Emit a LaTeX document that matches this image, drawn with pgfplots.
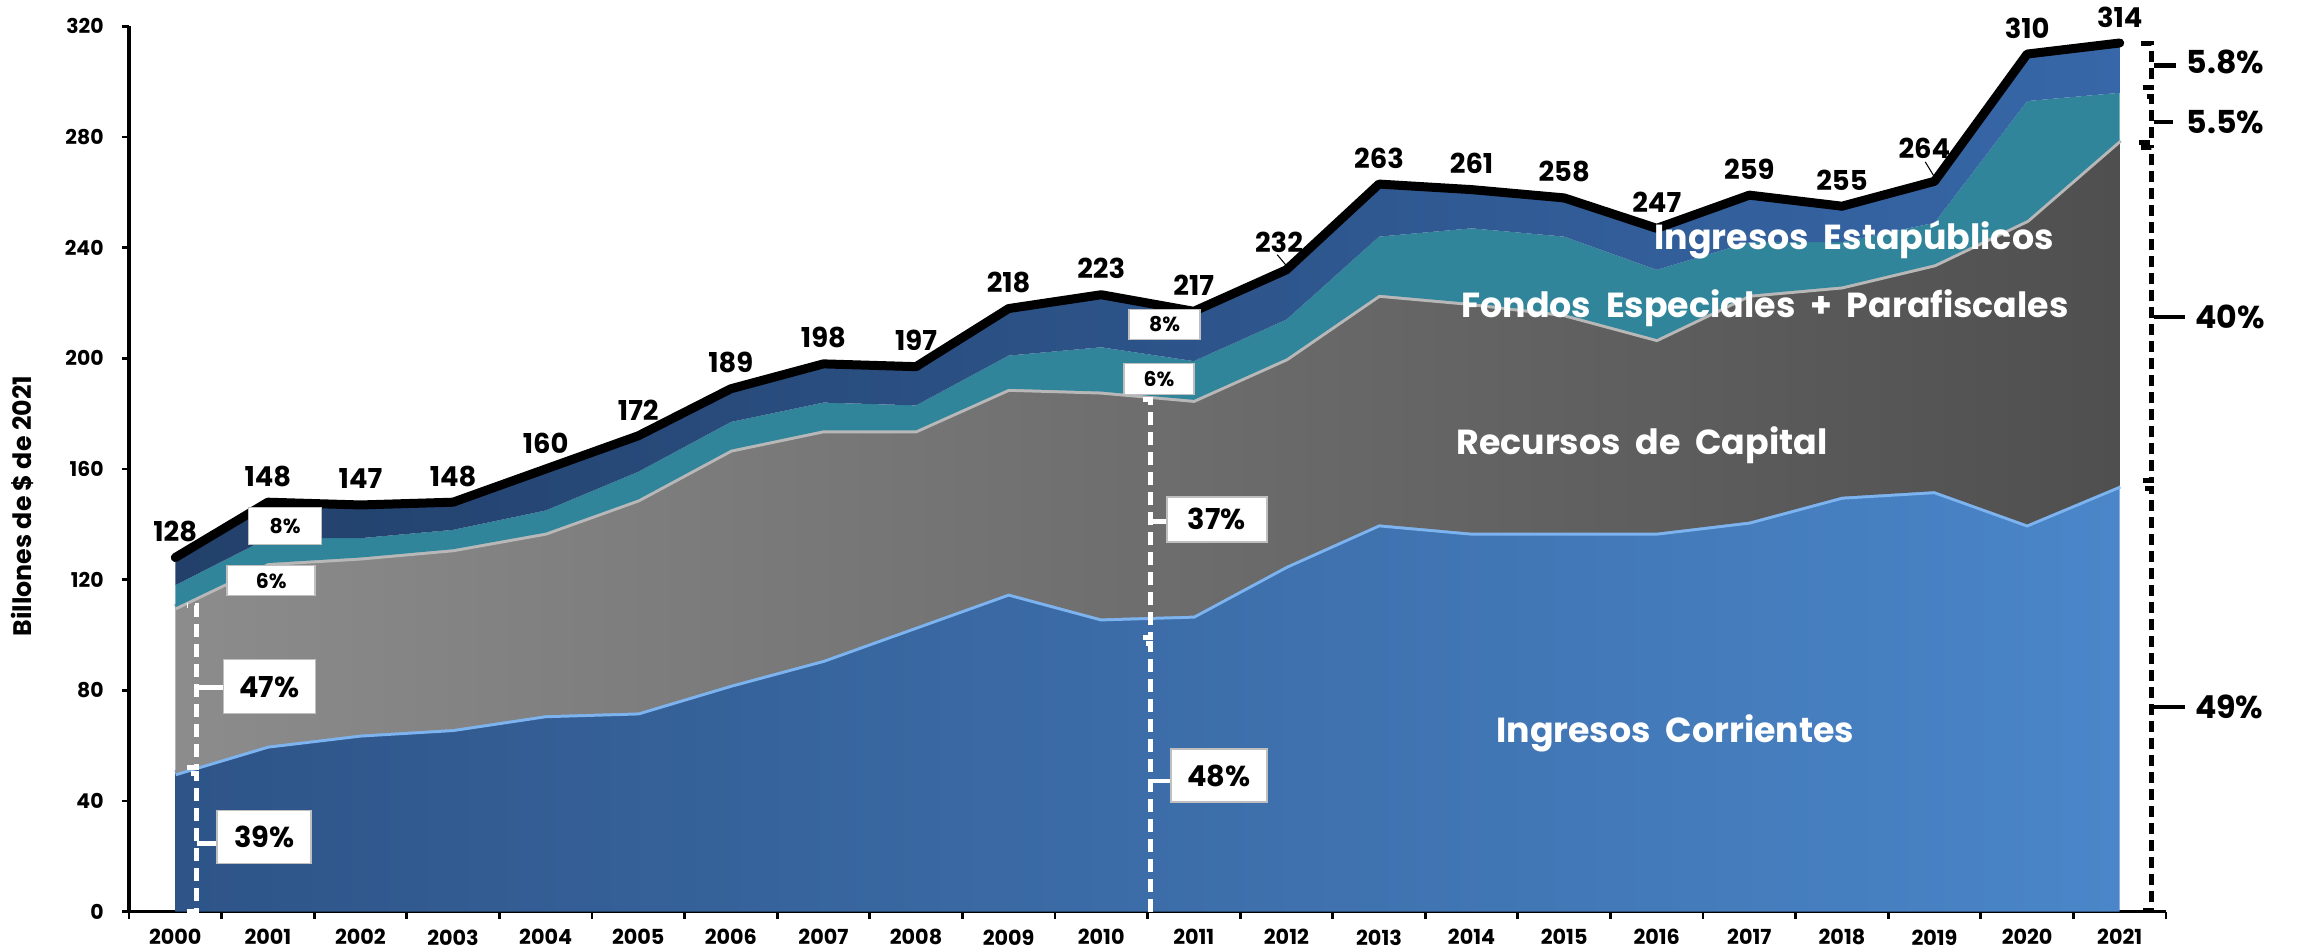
\documentclass[border=0pt]{standalone}
\usepackage{fontspec}
\setmainfont{Poppins}
\usepackage{pgfplots}
\usepackage{pgfplotstable}
\pgfplotsset{compat=1.18}

\definecolor{corrL}{HTML}{2E5488}
\definecolor{corrR}{HTML}{4A86C9}
\definecolor{capL}{HTML}{8C8C8C}
\definecolor{capR}{HTML}{4F4F4F}
\definecolor{fondo}{HTML}{31859B}
\definecolor{estaL}{HTML}{22406A}
\definecolor{estaR}{HTML}{3767A8}
\definecolor{corrEdge}{HTML}{7DB4F0}
\definecolor{capEdge}{HTML}{B8B8B8}

% valores en billones de $ de 2021
\pgfplotstableread{
x corr cap fon est zero lbl
0 50 60 8 10 0 128
1 60 66 9 13 0 148
2 64 64 7 12 0 147
3 66 65 7 10 0 148
4 71 66 8 15 0 160
5 72 77 10 13 0 172
6 82 85 10 12 0 189
7 91 83 10 14 0 198
8 103 71 9 14 0 197
9 115 74 12 17 0 218
10 106 82 16 19 0 223
11 107 78 14 18 0 217
12 125 75 14 18 0 {}
13 140 83 21 19 0 263
14 137 83 27 14 0 261
15 137 79 28 14 0 258
16 137 70 25 15 0 247
17 141 82 19 17 0 259
18 150 76 16 13 0 255
19 152 82 15 15 0 {}
20 140 110 43 17 0 310
21 154 125 17 18 0 314
}\datos

\tikzset{
  valor/.style={black, font=\bfseries\fontsize{7.8}{9}\selectfont},
  caja/.style={fill=white, draw=black!25, line width=0.4pt, inner sep=0pt,
    font=\bfseries\fontsize{8.2}{9}\selectfont},
  cajita/.style={caja, font=\bfseries\fontsize{5.8}{7}\selectfont},
  blanca/.style={white, line width=0.5mm, dash pattern=on 1.3mm off 0.7mm},
  negra/.style={black, line width=0.5mm, dash pattern=on 1.1mm off 0.6mm},
  etiq/.style={white, font=\fontsize{9.9}{11}\selectfont\bfseries},
  pct/.style={anchor=west, black, font=\bfseries\fontsize{9}{10}\selectfont},
}

\begin{document}
\begin{tikzpicture}
\useasboundingbox (-12.9mm,-3.84mm) rectangle (216.9mm,91.16mm);
\begin{axis}[
  at={(0,0)}, anchor=south west,
  scale only axis, width=203.7mm, height=88.52mm,
  xmin=-0.5, xmax=21.5, ymin=0, ymax=320,
  stack plots=y, reverse stacked plots=false, clip=false, no markers,
  axis x line=bottom, axis y line=left,
  axis line style={-, line width=1pt, black},
  tick align=outside,
  xtick={0,...,21},
  xticklabels={2000,2001,2002,2003,2004,2005,2006,2007,2008,2009,2010,2011,2012,2013,2014,2015,2016,2017,2018,2019,2020,2021},
  major x tick style={draw=none},
  minor xtick={-0.5,0.5,...,21.5},
  minor tick length=0.7mm, major tick length=0.7mm,
  every tick/.style={black, line width=0.8pt},
  ytick={0,40,...,320},
  /pgf/number format/assume math mode=true,
  xticklabel style={font=\bfseries\fontsize{5.9}{7}\selectfont, yshift=0.15mm},
  yticklabel style={font=\bfseries\fontsize{5.8}{7}\selectfont, xshift=-0.6mm},
  ylabel={Billones de \$ de 2021},
  every axis y label/.style={at={(axis description cs:-0.0525,0.458)}, rotate=90, anchor=center,
    font=\bfseries\fontsize{7.2}{8}\selectfont},
]
\addplot[draw=none, left color=corrL, right color=corrR] table[x=x, y=corr] {\datos} \closedcycle;
\addplot[corrEdge, line width=0.6mm] table[x=x, y=zero] {\datos};
\addplot[draw=none, left color=capL, right color=capR] table[x=x, y=cap] {\datos} \closedcycle;
\addplot[capEdge, line width=0.6mm] table[x=x, y=zero] {\datos};
\addplot[draw=none, fill=fondo] table[x=x, y=fon] {\datos} \closedcycle;
\addplot[draw=none, left color=estaL, right color=estaR] table[x=x, y=est] {\datos} \closedcycle;
\addplot[black, line width=0.9mm, line join=round, line cap=round,
  nodes near coords, point meta=explicit symbolic,
  every node near coord/.style={anchor=center, yshift=2.6mm, valor}]
  table[x=x, y=zero, meta=lbl] {\datos};
\end{axis}

% anotaciones, en las unidades del eje (x: categoria, y: billones)
\begin{scope}[x=9.25909mm, y=0.276625mm, shift={(4.62955mm,0)}]
\node[valor] at (11.92,242) {232};
\draw[black, line width=0.3pt] (11.9,237.5) -- (12.0,233.5);
\node[valor] at (18.89,276) {264};
\draw[black, line width=0.3pt] (18.9,271) -- (19.0,265.5);

\node[etiq] at (16.2,64.6) {Ingresos\ \ Corrientes};
\node[etiq] at (15.84,168.5) {Recursos\ \ de\ \ Capital};
\node[etiq] at (17.17,218) {Fondos\ \ Especiales\ \ +\ \ Parafiscales};
\node[etiq] at (18.13,243) {Ingresos\ \ Estapúblicos};

% participaciones 2000
\draw[blanca] (0.13,0) -- (0.23,0) -- (0.23,50) -- (0.13,50);
\draw[blanca] (0.13,52) -- (0.23,52) -- (0.23,110.5) -- (0.13,110.5);
\draw[white, line width=0.45mm] (0.23,24.7) -- (0.45,24.7);
\draw[white, line width=0.45mm] (0.23,81) -- (0.52,81);
\node[caja, minimum width=9.4mm, minimum height=5.3mm] at (0.96,27) {39\%};
\node[caja, minimum width=9.2mm, minimum height=5.4mm] at (1.015,81.3) {47\%};
\node[cajita, minimum width=8.8mm, minimum height=3.0mm] at (1.035,119.6) {6\%};
\node[cajita, minimum width=7.3mm, minimum height=3.7mm] at (1.185,139.3) {8\%};

% participaciones 2010
\draw[blanca] (10.53,0) -- (10.53,97) -- (10.45,97);
\draw[blanca] (10.45,99) -- (10.53,99) -- (10.53,185) -- (10.45,185);
\draw[white, line width=0.45mm] (10.53,141) -- (10.71,141);
\draw[white, line width=0.45mm] (10.53,47.3) -- (10.75,47.3);
\node[caja, minimum width=9.6mm, minimum height=5.3mm] at (11.27,49.2) {48\%};
\node[caja, minimum width=10mm, minimum height=4.5mm] at (11.25,141.8) {37\%};
\node[cajita, minimum width=7mm, minimum height=3.1mm] at (10.625,192.5) {6\%};
\node[cajita, minimum width=7.1mm, minimum height=3.0mm] at (10.685,212.3) {8\%};

% participaciones 2021
\draw[negra] (21.25,0.5) -- (21.34,0.5) -- (21.34,153) -- (21.25,153);
\draw[negra] (21.25,156) -- (21.34,156) -- (21.34,276.3) -- (21.21,276.3);
\draw[negra] (21.21,278) -- (21.34,278) -- (21.34,294.5) -- (21.25,294.5);
\draw[negra] (21.25,298) -- (21.34,298) -- (21.34,313.8) -- (21.21,313.8);
\draw[black, line width=0.45mm] (21.37,74) -- (21.70,74);
\draw[black, line width=0.45mm] (21.37,215) -- (21.70,215);
\draw[black, line width=0.45mm] (21.37,285.4) -- (21.58,285.4);
\draw[black, line width=0.45mm] (21.37,305.8) -- (21.61,305.8);
\node[pct] at (21.59,307) {5.8\%};
\node[pct] at (21.59,285.4) {5.5\%};
\node[pct] at (21.68,215) {40\%};
\node[pct] at (21.68,74) {49\%};
\end{scope}
\end{tikzpicture}
\end{document}
